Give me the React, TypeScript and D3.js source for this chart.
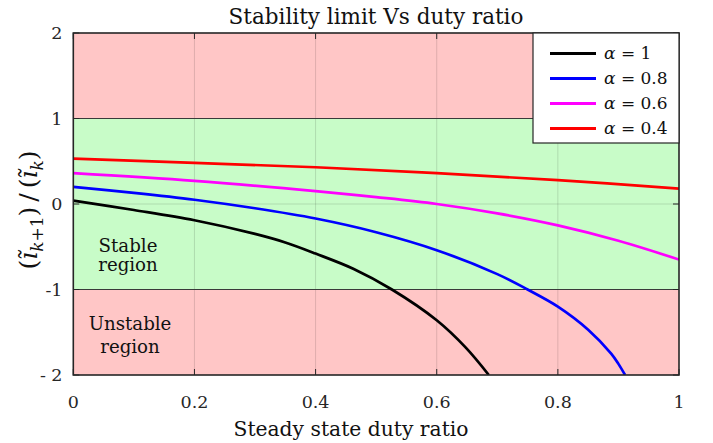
import React from "react";
import * as d3 from "d3";

// duty ratio samples and stability ratio, one pair of arrays per alpha
const dutyA1 = [0, 0.1, 0.2, 0.3, 0.35, 0.4, 0.463, 0.526, 0.6, 0.648, 0.686];
const ratioA1 = [0.04, -0.07, -0.19, -0.35, -0.45, -0.58, -0.76, -1.0, -1.36, -1.68, -2.0];

const dutyA08 = [0, 0.1, 0.2, 0.3, 0.4, 0.5, 0.6, 0.7, 0.75, 0.8, 0.85, 0.888, 0.9, 0.911];
const ratioA08 = [0.2, 0.13, 0.05, -0.05, -0.17, -0.33, -0.54, -0.82, -1.0, -1.2, -1.47, -1.75, -1.87, -2.0];

const dutyA06 = [0, 0.2, 0.4, 0.5, 0.6, 0.7, 0.8, 0.9, 1];
const ratioA06 = [0.36, 0.27, 0.15, 0.08, 0.0, -0.11, -0.25, -0.43, -0.65];

const dutyA04 = [0, 0.2, 0.4, 0.6, 0.8, 1];
const ratioA04 = [0.53, 0.48, 0.43, 0.36, 0.28, 0.18];

const seriesNames = ["\u03b1 = 1", "\u03b1 = 0.8", "\u03b1 = 0.6", "\u03b1 = 0.4"];
const seriesColors = ["#000000", "#0000ff", "#ff00ff", "#ff0000"];
const xTicks = [0, 0.2, 0.4, 0.6, 0.8, 1];
const xTickLabels = ["0", "0.2", "0.4", "0.6", "0.8", "1"];
const yTicks = [2, 1, 0, -1, -2];
const yTickLabels = ["2", "1", "0", "-1", "- 2"];

const W = 713;
const H = 443;
const left = 73.3;
const right = 679;
const top = 33;
const bottom = 375;
const font = "'DejaVu Serif', serif";

export default function App() {
  const x = d3.scaleLinear().domain([0, 1]).range([left, right]);
  const y = d3.scaleLinear().domain([-2, 2]).range([bottom, top]);

  const series = [
    dutyA1.map((d, i) => [d, ratioA1[i]]),
    dutyA08.map((d, i) => [d, ratioA08[i]]),
    dutyA06.map((d, i) => [d, ratioA06[i]]),
    dutyA04.map((d, i) => [d, ratioA04[i]]),
  ];

  const line = d3
    .line<number[]>()
    .x((d) => x(d[0]))
    .y((d) => y(d[1]))
    .curve(d3.curveCatmullRom.alpha(0.5));

  const pink = "#ffc6c6";
  const green = "#c8fcc8";
  const axisColor = "#262626";

  return (
    <svg width={W} height={H} style={{ position: "absolute", left: 0, top: 0 }} fontFamily={font}>
      <defs>
        <clipPath id="plot">
          <rect x={left} y={top} width={right - left} height={bottom - top} />
        </clipPath>
      </defs>
      <rect width={W} height={H} fill="#fff" />

      {/* Regions */}
      <rect x={left} y={y(2)} width={right - left} height={y(1) - y(2)} fill={pink} />
      <rect x={left} y={y(1)} width={right - left} height={y(-1) - y(1)} fill={green} />
      <rect x={left} y={y(-1)} width={right - left} height={y(-2) - y(-1)} fill={pink} />

      {/* Grid */}
      {xTicks.slice(1, -1).map((t) => (
        <line key={"gx" + t} x1={x(t)} x2={x(t)} y1={top} y2={bottom} stroke="#000" strokeOpacity={0.13} />
      ))}
      <line x1={left} x2={right} y1={y(0)} y2={y(0)} stroke="#000" strokeOpacity={0.13} />

      {/* Region edges */}
      {[1, -1].map((v) => (
        <line key={"edge" + v} x1={left} x2={right} y1={y(v)} y2={y(v)} stroke="#3a3a3a" strokeWidth={1.2} />
      ))}

      {/* Region text */}
      <g fontSize={18.2} textAnchor="middle" fill="#111">
        <text x={128} y={251.5}>Stable</text>
        <text x={128} y={270.5}>region</text>
        <text x={130} y={330}>Unstable</text>
        <text x={130} y={353}>region</text>
      </g>

      {/* Curves */}
      <g clipPath="url(#plot)">
        {series.map((s, i) => (
          <path key={"s" + i} d={line(s) || ""} fill="none" stroke={seriesColors[i]} strokeWidth={2.7} />
        ))}
      </g>

      {/* Axes box and ticks */}
      <rect x={left} y={top} width={right - left} height={bottom - top} fill="none" stroke={axisColor} strokeWidth={1.6} />
      {xTicks.map((t, i) => (
        <g key={"tx" + t}>
          <line x1={x(t)} x2={x(t)} y1={bottom} y2={bottom - 6} stroke={axisColor} />
          <line x1={x(t)} x2={x(t)} y1={top} y2={top + 6} stroke={axisColor} />
          <text x={x(t)} y={407.5} fontSize={17.5} textAnchor="middle" fill="#262626">
            {xTickLabels[i]}
          </text>
        </g>
      ))}
      {yTicks.map((t, i) => (
        <g key={"ty" + t}>
          <line x1={left} x2={left + 6} y1={y(t)} y2={y(t)} stroke={axisColor} />
          <line x1={right} x2={right - 6} y1={y(t)} y2={y(t)} stroke={axisColor} />
          <text x={62.5} y={y(t)} dy="0.36em" fontSize={17.5} textAnchor="end" fill="#262626">
            {yTickLabels[i]}
          </text>
        </g>
      ))}

      {/* Title and labels */}
      <text x={376} y={24} fontSize={21.5} textAnchor="middle" fill="#111">
        Stability limit Vs duty ratio
      </text>
      <text x={351} y={436} fontSize={20.3} textAnchor="middle" fill="#111">
        Steady state duty ratio
      </text>
      <text transform="translate(37,210) rotate(-90)" fontSize={25} textAnchor="middle" fill="#111">
        <tspan>(</tspan>
        <tspan fontStyle="italic">{"\u0129"}</tspan>
        <tspan fontStyle="italic" fontSize={17} dy={6}>k</tspan>
        <tspan fontSize={17}>+1</tspan>
        <tspan dy={-6}>{")\u2009/\u2009("}</tspan>
        <tspan fontStyle="italic">{"\u0129"}</tspan>
        <tspan fontStyle="italic" fontSize={17} dy={6}>k</tspan>
        <tspan dy={-6}>)</tspan>
      </text>

      {/* Legend */}
      <rect x={533} y={top} width={right - 533} height={143 - top} fill="#fff" stroke={axisColor} strokeWidth={1.2} />
      {seriesNames.map((name, i) => (
        <g key={"lg" + i}>
          <line x1={550} x2={596} y1={53.5 + i * 25} y2={53.5 + i * 25} stroke={seriesColors[i]} strokeWidth={2.8} />
          <text x={604} y={53.5 + i * 25} dy="0.35em" fontSize={17} fill="#111">
            <tspan fontStyle="italic">{"\u03b1"}</tspan>
            <tspan>{name.slice(1)}</tspan>
          </text>
        </g>
      ))}
    </svg>
  );
}
